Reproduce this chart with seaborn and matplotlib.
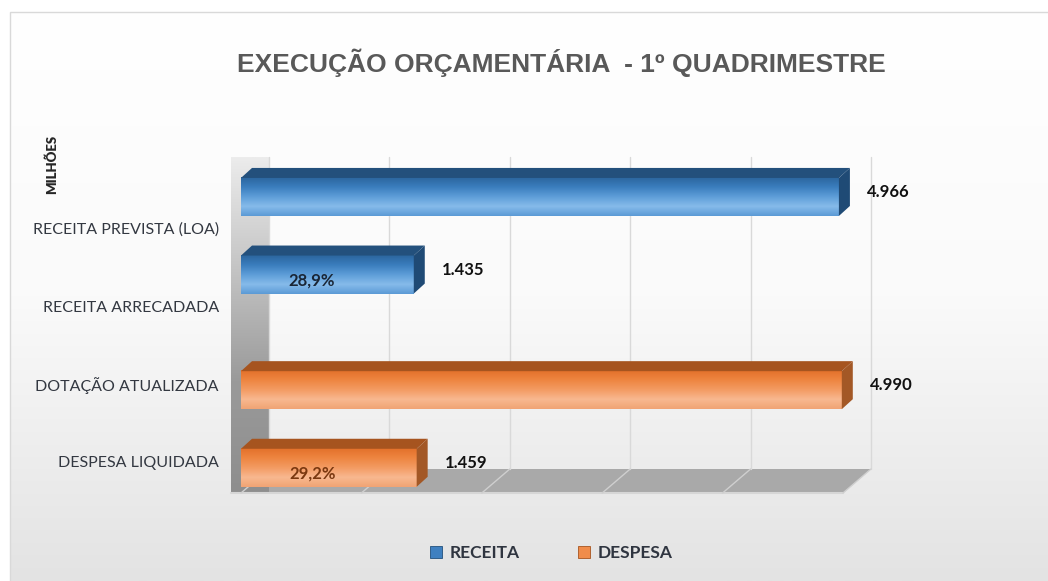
import numpy as np
import pandas as pd
import seaborn as sns
import matplotlib.pyplot as plt
from matplotlib.patches import Polygon, Rectangle
from matplotlib.lines import Line2D
from matplotlib.colors import LinearSegmentedColormap
from matplotlib.transforms import ScaledTranslation

# dados (em milhoes)
categorias = ["RECEITA PREVISTA (LOA)", "RECEITA ARRECADADA", "DOTAÇÃO ATUALIZADA", "DESPESA LIQUIDADA"]
series = ["RECEITA", "RECEITA", "DESPESA", "DESPESA"]
valores = [4966, 1435, 4990, 1459]
rotulos_valor = ["4.966", "1.435", "4.990", "1.459"]
rotulos_pct = ["", "28,9%", "", "29,2%"]
ordem_series = ["RECEITA", "DESPESA"]
limite_x = 5000
passo_grade = 1000

df = pd.DataFrame({"categoria": categorias, "serie": series, "valor": valores})

sns.set_theme(style="white")
plt.rcParams['font.family'] = ['Lato', 'DejaVu Sans']

fig = plt.figure(figsize=(10.48, 5.81), dpi=100)
W, H = 1048, 581

# fundo com degrade e borda
bg = fig.add_axes([0, 0, 1, 1], zorder=-10)
bg.set_xlim(0, 1)
bg.set_ylim(0, 1)
bg.set_axis_off()
cmap_bg = LinearSegmentedColormap.from_list("bg", ["#ffffff", "#fafafa", "#e3e3e3"])
grad = np.linspace(0, 1, 256).reshape(-1, 1)
bg.imshow(grad, cmap=cmap_bg, aspect="auto", extent=[10 / W, 1, 0, 1 - 12 / H], origin="upper")
bg.add_patch(Rectangle((10 / W, -0.01), 1, 1 - 12 / H + 0.01, fill=False, edgecolor="#d9d9d9", lw=1))

# eixo principal
ax = fig.add_axes([241 / W, 1 - 493 / H, 602 / W, 343 / H])
ax.patch.set_alpha(0)

cores = {"RECEITA": "#3f80c0", "DESPESA": "#f08c4a"}
sns.barplot(data=df, y="categoria", x="valor", hue="serie", hue_order=ordem_series,
            order=categorias, dodge=True, width=0.98, palette=cores, errorbar=None,
            orient="h", legend=False, ax=ax)
barras = [p for p in ax.patches if isinstance(p, Rectangle) and p.get_width() > 0]

y_top, y_bot = -0.85, 3.57
px_x = 602 / limite_x      # pixels por unidade
px_y = 343 / (y_bot - y_top)
# profundidade das paredes e das barras
wdx, wdy = 28 / px_x, 24 / px_y
bdx, bdy = 11 / px_x, 10 / px_y

# paredes
wall_top = y_top + 7 / px_y
wall_back_bot = y_bot - wdy
parede = Polygon([(-10 / px_x, y_bot), (-10 / px_x, wall_top + wdy), (wdx, wall_top), (wdx, wall_back_bot)],
                 closed=True, facecolor="#b5b5b5", edgecolor="none", zorder=0.5, clip_on=False)
ax.add_patch(parede)
cmap_wall = LinearSegmentedColormap.from_list("wall", ["#ececec", "#c4c4c4", "#9a9a9a", "#8e8e8e"])
im = ax.imshow(grad, cmap=cmap_wall, aspect="auto", origin="upper",
               extent=[-10 / px_x, wdx, y_bot, wall_top], zorder=0.55, clip_on=False)
im.set_clip_path(parede)

chao = Polygon([(-10 / px_x, y_bot), (limite_x, y_bot), (limite_x + wdx, wall_back_bot), (wdx, wall_back_bot)],
               closed=True, facecolor="#a9a9a9", edgecolor="none", zorder=0.5, clip_on=False)
ax.add_patch(chao)
ax.plot([-10 / px_x, limite_x], [y_bot, y_bot], color="#d6d6d6", lw=1.5, zorder=0.6, clip_on=False)
for v in range(0, limite_x + 1, passo_grade):
    ax.plot([v + wdx, v + wdx], [wall_top, wall_back_bot], color="#d9d9d9", lw=1, zorder=0.6, clip_on=False)
    ax.plot([v, v + wdx], [y_bot, wall_back_bot], color="#cfcfcf", lw=1, zorder=0.6, clip_on=False)

# barras em 3D simulado
grad_cores = {
    "RECEITA": (["#2b659d", "#3a7dbd", "#5d9dd8", "#86bbea", "#5b9ad6"], "#23507c", "#1f4a75"),
    "DESPESA": (["#e3702a", "#ee8540", "#f39b62", "#f8b890", "#f0a474"], "#a6541f", "#a35826"),
}
for p in barras:
    x0, y0 = p.get_x(), p.get_y()
    bw, bh = p.get_width(), p.get_height()
    yc = y0 + bh / 2
    fc = p.get_facecolor()
    serie = "RECEITA" if fc[2] > fc[0] else "DESPESA"
    frente, topo, lado = grad_cores[serie]
    p.set_edgecolor("none")
    p.set_zorder(2)
    cm = LinearSegmentedColormap.from_list(serie, frente)
    ax.imshow(grad, cmap=cm, aspect="auto", origin="upper",
              extent=[x0, x0 + bw, y0 + bh, y0], zorder=2.05)
    ax.add_patch(Polygon([(x0, y0), (x0 + bw, y0), (x0 + bw + bdx, y0 - bdy), (x0 + bdx, y0 - bdy)],
                         closed=True, facecolor=topo, edgecolor="none", zorder=2.1, clip_on=False))
    ax.add_patch(Polygon([(x0 + bw, y0), (x0 + bw + bdx, y0 - bdy), (x0 + bw + bdx, y0 + bh - bdy), (x0 + bw, y0 + bh)],
                         closed=True, facecolor=lado, edgecolor="none", zorder=2.1, clip_on=False))
    i = valores.index(int(round(bw)))
    ax.text(bw + bdx + 140, yc - bdy / 2, rotulos_valor[i], ha="left", va="center",
            fontsize=12, fontweight="bold", color="#111111", zorder=5)
    if rotulos_pct[i]:
        cor_txt = "#1a2636" if serie == "RECEITA" else "#7a3810"
        ax.text(bw * 0.41, yc + 0.08, rotulos_pct[i], ha="center", va="center",
                fontsize=12, fontweight="bold", color=cor_txt, zorder=5)

ax.set_xlim(0, limite_x)
ax.set_ylim(y_bot, y_top)
ax.set_xticks([])
ax.set_xlabel("")
ax.set_ylabel("")
sns.despine(ax=ax, left=True, bottom=True)
ax.tick_params(axis="y", length=0, pad=16, labelsize=11.5, labelcolor="#333841")
for lab in ax.get_yticklabels():
    lab.set_transform(lab.get_transform() + ScaledTranslation(0, -9 / 72, fig.dpi_scale_trans))

# textos
fig.text(561 / W, 1 - 63 / H, "EXECUÇÃO ORÇAMENTÁRIA  - 1º QUADRIMESTRE", ha="center", va="center",
         fontsize=19, fontweight="bold", color="#595959", family=["Liberation Sans", "DejaVu Sans"])
fig.text(52 / W, 1 - 164 / H, "MILHÕES", rotation=90, ha="center", va="center",
         fontsize=9.5, fontweight="heavy", color="#262626")

handles = [Line2D([], [], marker="s", linestyle="none", markersize=9,
                  markerfacecolor=cores[s], markeredgecolor=grad_cores[s][1], markeredgewidth=0.6)
           for s in ordem_series]
fig.legend(handles, ordem_series, loc="center", bbox_to_anchor=(550 / W, 1 - 553 / H), ncol=2,
           frameon=False, handletextpad=0.3, columnspacing=3.2, handlelength=1,
           prop={"weight": "bold", "size": 12.5}, labelcolor="#2f3540")

fig.savefig("out.png", dpi=100)
